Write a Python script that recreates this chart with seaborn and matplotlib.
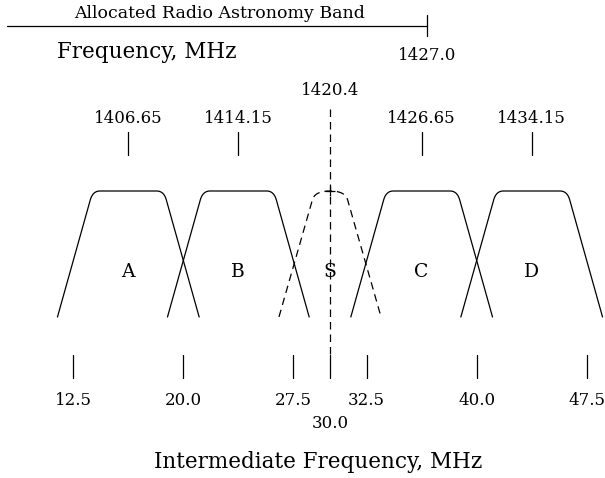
import numpy as np
import pandas as pd
import matplotlib.pyplot as plt
import seaborn as sns

sns.set_style("white")
plt.rcParams["font.family"] = ["DejaVu Serif"]
plt.rcParams["text.color"] = "black"

# channels of the receiver, centres in IF (MHz)
channels = ["A", "B", "S", "C", "D"]
if_centres = [16.25, 23.75, 30.0, 36.25, 43.75]
rf_labels = ["1406.65", "1414.15", "1420.4", "1426.65", "1434.15"]
if_ticks = [12.5, 20.0, 27.5, 30.0, 32.5, 40.0, 47.5]
if_tick_labels = ["12.5", "20.0", "27.5", "30.0", "32.5", "40.0", "47.5"]
lo_freq = 1390.4        # RF = IF + LO
band_edge = 1427.0      # top of the allocated band, MHz

# passband outlines: offset from centre (MHz), response
# a 1 in *_ctrl marks a control point for a rounded corner
wide_off = [-4.83, -2.59, -2.42, -1.93, 1.93, 2.42, 2.59, 4.83]
wide_resp = [0.0, 0.93, 1.0, 1.0, 1.0, 1.0, 0.93, 0.0]
wide_ctrl = [0, 0, 1, 0, 0, 1, 0, 0]
narrow_off = [-3.48, -1.2, -1.03, 0.0, 1.03, 1.2, 3.48]
narrow_resp = [0.0, 0.93, 1.0, 1.0, 1.0, 0.93, 0.0]
narrow_ctrl = [0, 0, 1, 0, 1, 0, 0]


def outline(off, resp, ctrl, n=12):
    xs, ys = [off[0]], [resp[0]]
    t = np.linspace(0, 1, n)[1:]
    for i in range(1, len(off)):
        if ctrl[i]:
            continue
        if ctrl[i - 1]:
            x0, x1, x2 = off[i - 2], off[i - 1], off[i]
            y0, y1, y2 = resp[i - 2], resp[i - 1], resp[i]
            xs.extend((1 - t) ** 2 * x0 + 2 * t * (1 - t) * x1 + t ** 2 * x2)
            ys.extend((1 - t) ** 2 * y0 + 2 * t * (1 - t) * y1 + t ** 2 * y2)
        else:
            xs.append(off[i])
            ys.append(resp[i])
    return np.array(xs), np.array(ys)


rows = []
for ch, c in zip(channels, if_centres):
    if ch == "S":
        xs, ys = outline(narrow_off, narrow_resp, narrow_ctrl)
        kind = "signal"
    else:
        xs, ys = outline(wide_off, wide_resp, wide_ctrl)
        kind = "pass"
    for k, (x, y) in enumerate(zip(xs, ys)):
        rows.append({"channel": ch, "kind": kind, "order": k,
                     "if_mhz": c + x, "response": y})
df = pd.DataFrame(rows)

fig = plt.figure(figsize=(6.05, 4.78), dpi=100)
ax = fig.add_axes([0, 0, 1, 1])

sns.lineplot(data=df, x="if_mhz", y="response", units="channel", style="kind",
             dashes={"pass": "", "signal": (6, 4)}, estimator=None, sort=False,
             color="black", lw=0.9, legend=False, ax=ax)

# channel letters
for ch, c in zip(channels, if_centres):
    ax.text(c, 0.317, ch, ha="center", va="baseline", fontsize=13.5)

# RF ticks and labels above the passbands
for ch, c, lab in zip(channels, if_centres, rf_labels):
    if ch == "S":
        ax.plot([c, c], [1.65, -0.302], color="black", lw=0.9, dashes=(6, 4))
        ax.plot(c, 1.0, marker="+", ms=7, mew=0.9, color="black")
        ax.text(c, 1.762, lab, ha="center", va="baseline", fontsize=12)
    else:
        ax.plot([c, c], [1.286, 1.47], color="black", lw=0.9)
        ax.text(c, 1.54, lab, ha="center", va="baseline", fontsize=12)

# IF ticks and labels
for t, lab in zip(if_ticks, if_tick_labels):
    ax.plot([t, t], [-0.302, -0.484], color="black", lw=0.9)
    yl = -0.881 if lab == "30.0" else -0.698
    ax.text(t, yl, lab, ha="center", va="baseline", fontsize=12)

ax.text(29.18, -1.198, "Intermediate Frequency, MHz", ha="center",
        va="baseline", fontsize=15.5)

# allocated radio astronomy band
edge_if = band_edge - lo_freq
ax.plot([7.98, edge_if], [2.313, 2.313], color="black", lw=0.9)
ax.plot([edge_if, edge_if], [2.397, 2.23], color="black", lw=0.9)
ax.text(22.5, 2.37, "Allocated Radio Astronomy Band", ha="center",
        va="baseline", fontsize=12.5)
ax.text(edge_if, 2.04, f"{band_edge:.1f}", ha="center", va="baseline",
        fontsize=12)
ax.text(11.39, 2.053, "Frequency, MHz", ha="left", va="baseline",
        fontsize=15.5)

ax.set_xlim(7.503, 48.747)
ax.set_ylim(-1.278, 2.516)
ax.set_axis_off()

fig.savefig("out.png", dpi=100, facecolor="white")
